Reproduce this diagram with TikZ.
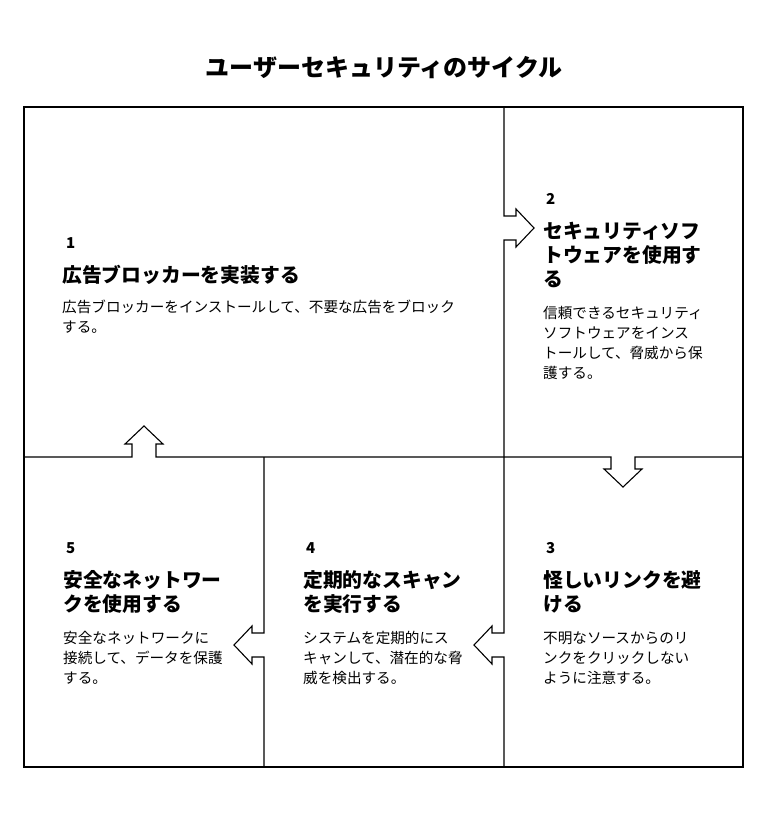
\documentclass[tikz,border=0pt]{standalone}
\usepackage{fontspec}
\setmainfont{Noto Sans CJK JP}
\begin{document}
\begin{tikzpicture}[x=1pt,y=-1pt,
  frame/.style={line width=1.1pt,black,line join=miter},
  ttl/.style={anchor=base,inner sep=0,font=\fontsize{24}{28}\selectfont\bfseries},
  num/.style={anchor=base west,inner sep=0,font=\fontsize{15}{18}\selectfont\bfseries},
  head/.style={anchor=base west,inner sep=0,align=left,font=\fontsize{19.8}{24}\selectfont\bfseries},
  body/.style={anchor=base west,inner sep=0,align=left,font=\fontsize{14.6}{20}\selectfont}]
\useasboundingbox (0,0) rectangle (768,816);
\fill[white] (0,0) rectangle (768,816);
\node[ttl] (title) at (384,76) {ユーザーセキュリティのサイクル};
% frame
\draw[frame] (24,107) rectangle (743,767);
\draw[frame] (504,107) -- (504,216) -- (516,216) -- (516,209) -- (534,228) -- (516,247) -- (516,240) -- (504,240) -- (504,457);
\draw[frame] (24,457) -- (132,457) -- (132,444) -- (125,444) -- (144,426) -- (163,444) -- (156,444) -- (156,457)
  -- (611,457) -- (611,469) -- (604,469) -- (623,487) -- (642,469) -- (635,469) -- (635,457) -- (743,457);
\draw[frame] (504,457) -- (504,633) -- (492,633) -- (492,626) -- (474,645) -- (492,664) -- (492,657) -- (504,657) -- (504,767);
\draw[frame] (264,457) -- (264,633) -- (252,633) -- (252,626) -- (234,645) -- (252,664) -- (252,657) -- (264,657) -- (264,767);
% panel 1
\node[num] (n1) at (66,248) {1};
\node[head] (h1) at (62,282) {広告ブロッカーを実装する};
\node[body] (b1) at (62,332) {広告ブロッカーをインストールして、不要な広告をブロック\\する。};
% panel 2
\node[num] (n2) at (546,204) {2};
\node[head] (h2) at (543,286) {セキュリティソフ\\トウェアを使用す\\る};
\node[body] (b2) at (543,378) {信頼できるセキュリティ\\ソフトウェアをインス\\トールして、脅威から保\\護する。};
% panel 3
\node[num] (n3) at (546,553) {3};
\node[head] (h3) at (543,611) {怪しいリンクを避\\ける};
\node[body] (b3) at (543,683) {不明なソースからのリ\\ンクをクリックしない\\ように注意する。};
% panel 4
\node[num] (n4) at (306,553) {4};
\node[head] (h4) at (303,611) {定期的なスキャン\\を実行する};
\node[body] (b4) at (303,683) {システムを定期的にス\\キャンして、潜在的な脅\\威を検出する。};
% panel 5
\node[num] (n5) at (66,553) {5};
\node[head] (h5) at (63,611) {安全なネットワー\\クを使用する};
\node[body] (b5) at (63,683) {安全なネットワークに\\接続して、データを保護\\する。};
\end{tikzpicture}
\end{document}
